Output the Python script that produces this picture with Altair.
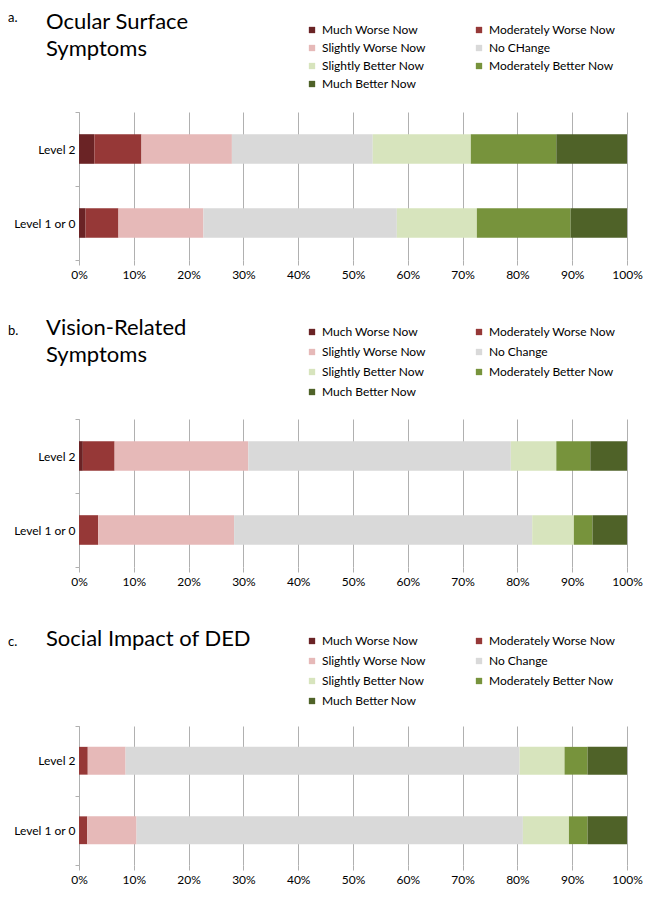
import altair as alt
import pandas as pd

levels = ["Level 2", "Level 1 or 0"]
responses = ["Much Worse Now", "Moderately Worse Now", "Slightly Worse Now", "No Change",
             "Slightly Better Now", "Moderately Better Now", "Much Better Now"]
responses_a = ["Much Worse Now", "Moderately Worse Now", "Slightly Worse Now", "No CHange",
               "Slightly Better Now", "Moderately Better Now", "Much Better Now"]
colors = ["#6A2325", "#963837", "#E6B9B8", "#D9D9D9", "#D7E4BD", "#77933C", "#4F6228"]

ocular_level2 = [2.8, 8.6, 16.5, 25.7, 17.9, 15.6, 12.9]
ocular_level10 = [1.2, 6.0, 15.5, 35.3, 14.6, 17.1, 10.3]
vision_level2 = [0.7, 5.8, 24.4, 47.9, 8.3, 6.2, 6.7]
vision_level10 = [0.0, 3.5, 24.8, 54.4, 7.6, 3.4, 6.3]
social_level2 = [0.0, 1.6, 6.9, 71.9, 8.2, 4.2, 7.2]
social_level10 = [0.0, 1.5, 9.0, 70.5, 8.4, 3.4, 7.2]

title_a = ["Ocular Surface", "Symptoms"]
title_b = ["Vision-Related", "Symptoms"]
title_c = ["Social Impact of DED"]

x_ticks = [i / 10 for i in range(11)]
FONT = "Lato"
GRID = "#B0B0B0"
W = 548


def text_layer(txt, x, y, size):
    return alt.Chart(pd.DataFrame({"t": [txt]})).mark_text(
        align="left", baseline="alphabetic", fontSize=size, font=FONT, color="black"
    ).encode(x=alt.value(x), y=alt.value(y), text="t:N")


def panel(letter, title_lines, labels, l2, l10, height, legend_y, row_pad,
          title_y, letter_y):
    df = pd.DataFrame({
        "level": [levels[0]] * len(labels) + [levels[1]] * len(labels),
        "response": labels * 2,
        "rank": list(range(len(labels))) * 2,
        "value": l2 + l10,
    })
    bars = alt.Chart(df).mark_bar(height={"band": 0.4}).encode(
        y=alt.Y("level:N", sort=levels, title=None,
                scale=alt.Scale(paddingInner=0, paddingOuter=0),
                axis=alt.Axis(tickBand="extent", ticks=True, tickSize=4, tickColor=GRID,
                              domainColor=GRID, labelFont=FONT, labelFontSize=12,
                              labelColor="black", labelPadding=0, grid=False)),
        x=alt.X("value:Q", stack="normalize", title=None,
                scale=alt.Scale(domain=[0, 1], nice=False),
                axis=alt.Axis(values=x_ticks, format=".0%", grid=True, gridColor=GRID,
                              domain=False, ticks=True, tickSize=5, tickColor=GRID,
                              labelFont=FONT, labelFontSize=12, labelColor="black",
                              labelPadding=4, labelFlush=False)),
        color=alt.Color("response:N", sort=labels,
                        scale=alt.Scale(domain=labels, range=colors),
                        legend=alt.Legend(orient="none", legendX=227, legendY=legend_y,
                                          columns=2, direction="horizontal",
                                          symbolType="square", symbolSize=40,
                                          symbolStrokeWidth=0, labelFont=FONT,
                                          labelFontSize=12, labelColor="black",
                                          labelOffset=4, columnPadding=47,
                                          rowPadding=row_pad, padding=0, title=None,
                                          labelLimit=200)),
        order=alt.Order("rank:Q"),
    )
    layers = [bars, text_layer(letter, -71, letter_y, 13)]
    for i, line in enumerate(title_lines):
        layers.append(text_layer(line, -33, title_y + 27 * i, 22))
    return alt.layer(*layers).properties(width=W, height=height)


a = panel("a.", title_a, responses_a, ocular_level2, ocular_level10,
          148, -88, 6, -83, -90)
b = panel("b.", title_b, responses, vision_level2, vision_level10,
          148, -93, 8, -84, -84)
c = panel("c.", title_c, responses, social_level2, social_level10,
          139, -91, 8, -80, -80)

chart = alt.vconcat(a, b, c, spacing=159, bounds="flush").resolve_scale(
    color="independent"
).configure_view(stroke=None).properties(
    padding={"left": 0, "top": 3, "right": 0, "bottom": 0})

chart.save("out.html", embed_options={"renderer": "svg", "actions": False})
